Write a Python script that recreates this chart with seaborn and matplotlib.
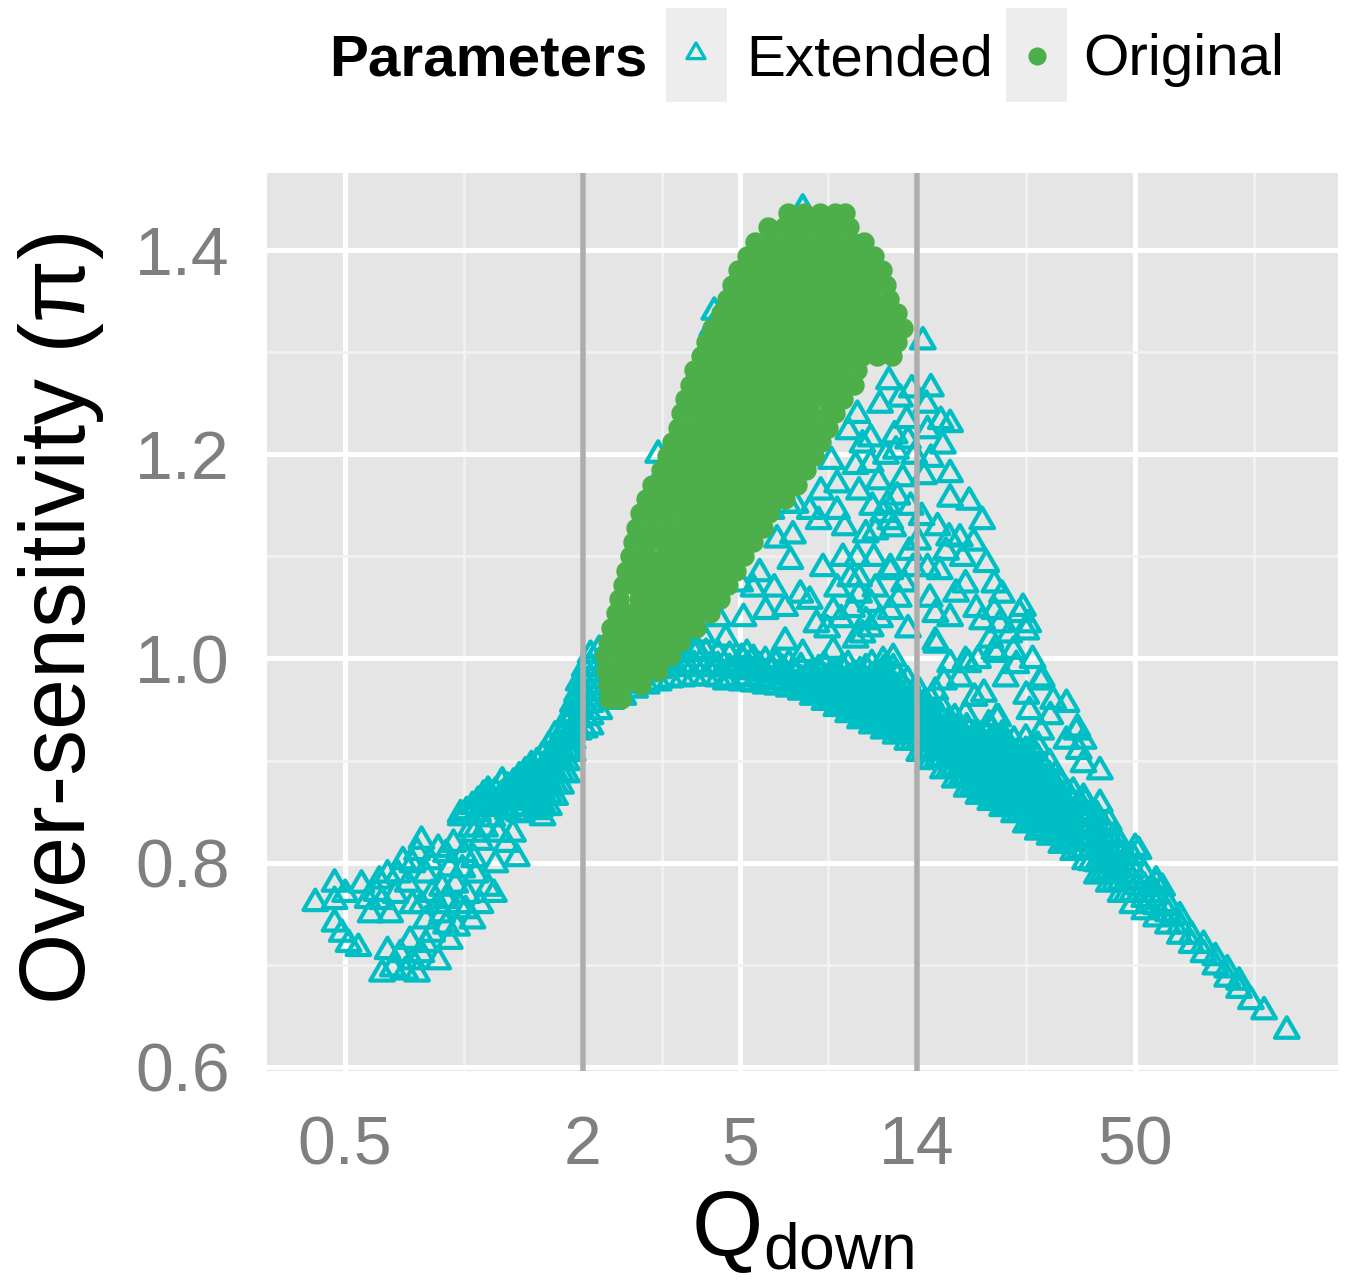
import numpy as np
import pandas as pd
import matplotlib
matplotlib.use("Agg")
import matplotlib.pyplot as plt
import seaborn as sns
from matplotlib.ticker import FixedLocator, NullFormatter
from matplotlib.patches import Rectangle
from matplotlib.path import Path

# ---------------- data ----------------
x_ticks = [0.5, 2, 5, 14, 50]
x_tick_labels = ["0.5", "2", "5", "14", "50"]
y_ticks = [0.6, 0.8, 1.0, 1.2, 1.4]
y_tick_labels = ["0.6", "0.8", "1.0", "1.2", "1.4"]
x_minor = [1.0, 3.162, 8.367, 26.46, 100.0]
y_minor = [0.7, 0.9, 1.1, 1.3]
threshold_lines = [2, 14]

# Extended: scattered triangles on the left arm (Q, pi)
ext_arm = [(0.42, 0.762), (0.47, 0.781), (0.47, 0.764), (0.50, 0.771), (0.47, 0.742), (0.49, 0.732),
           (0.51, 0.722), (0.54, 0.718), (0.58, 0.751), (0.61, 0.784), (0.62, 0.764), (0.65, 0.751),
           (0.70, 0.803), (0.72, 0.781), (0.78, 0.823), (0.82, 0.803), (0.62, 0.693), (0.66, 0.698),
           (0.69, 0.712), (0.73, 0.725), (0.76, 0.693), (0.78, 0.712), (0.83, 0.732), (0.88, 0.751),
           (0.92, 0.725), (0.96, 0.738), (0.83, 0.771), (0.88, 0.777), (0.92, 0.796), (0.98, 0.849),
           (1.00, 0.810), (1.04, 0.835), (1.07, 0.790), (1.11, 0.855), (1.15, 0.777), (1.19, 0.771),
           (1.15, 0.872), (1.25, 0.881), (1.36, 0.806), (1.40, 0.849), (1.46, 0.881), (1.56, 0.855),
           (1.62, 0.898), (1.65, 0.875), (1.72, 0.914), (1.78, 0.930), (1.85, 0.947), (1.93, 0.967),
           (0.55, 0.780), (0.57, 0.765), (0.60, 0.772), (0.64, 0.790), (0.67, 0.770), (0.68, 0.790),
           (0.74, 0.800), (0.76, 0.812), (0.80, 0.790), (0.86, 0.815), (0.90, 0.810), (0.94, 0.820),
           (0.74, 0.760), (0.78, 0.760), (0.80, 0.745), (0.86, 0.760), (0.90, 0.765), (0.95, 0.780),
           (0.99, 0.795), (1.02, 0.770), (1.06, 0.805), (1.10, 0.822), (1.13, 0.835), (0.86, 0.705),
           (0.90, 0.740), (0.97, 0.760), (1.01, 0.755), (1.05, 0.745), (1.10, 0.760), (0.64, 0.715),
           (0.71, 0.695), (0.74, 0.705), (0.80, 0.722), (1.20, 0.800), (1.28, 0.820), (1.33, 0.830),
           (1.22, 0.830), (1.18, 0.845), (1.06, 0.830)]

# Extended: dense upper band of the left arm, per Q column
ext_armband_q = [0.98, 1.015, 1.05, 1.085, 1.12, 1.16, 1.20, 1.245, 1.29, 1.335, 1.38, 1.43, 1.48,
                 1.53, 1.58, 1.64, 1.70, 1.76, 1.82, 1.885, 1.95, 2.02, 2.09]
ext_armband_pi = [[0.846], [0.852], [0.857], [0.850, 0.862], [0.856, 0.868], [0.857, 0.869],
                  [0.859, 0.871], [0.856, 0.868, 0.880], [0.852, 0.864, 0.876], [0.856, 0.868, 0.880],
                  [0.850, 0.862, 0.874, 0.886], [0.855, 0.867, 0.879, 0.891], [0.861, 0.873, 0.885, 0.897],
                  [0.852, 0.864, 0.876, 0.888, 0.900],
                  [0.846, 0.858, 0.870, 0.882, 0.894, 0.906],
                  [0.856, 0.868, 0.880, 0.892, 0.904, 0.916],
                  [0.866, 0.878, 0.890, 0.902, 0.914, 0.926],
                  [0.877, 0.889, 0.901, 0.913, 0.925],
                  [0.888, 0.900, 0.912, 0.924, 0.936],
                  [0.909, 0.921, 0.933, 0.945, 0.957],
                  [0.930, 0.942, 0.954, 0.966, 0.978],
                  [0.932, 0.944, 0.956, 0.968, 0.980, 0.992],
                  [0.935, 0.945, 0.957, 0.969, 0.981, 0.993, 1.005]]

# Extended: dense lower band (right of Q = 2), per Q column
ext_band_q = [2.20, 2.36, 2.53, 2.71, 2.90, 3.11, 3.33, 3.57, 3.82, 4.10, 4.39, 4.70, 5.04, 5.40,
              5.79, 6.20, 6.64, 7.12, 7.63, 8.17, 8.76, 9.38, 10.05, 10.77, 11.54, 12.37, 13.25,
              14.20, 15.21, 16.30, 17.47, 18.72, 20.05, 21.49, 23.02, 24.67, 26.43, 28.32, 30.35,
              32.52, 34.84, 37.33, 40.00, 42.86, 45.93, 49.21, 52.73, 56.50, 60.54, 64.87, 69.51,
              74.48, 79.80, 85.51, 91.62, 98.17]
ext_band_pi = [[0.950, 0.962, 0.974, 0.986, 0.998, 1.010], [0.960, 0.972, 0.984, 0.996],
               [0.964, 0.976, 0.988], [0.971, 0.983, 0.995], [0.975, 0.987, 0.999],
               [0.978, 0.990, 1.002], [0.981, 0.993, 1.005], [0.982, 0.994, 1.006],
               [0.983, 0.995, 1.007], [0.983, 0.995, 1.007], [0.982, 0.994, 1.006],
               [0.980, 0.992, 1.004], [0.978, 0.990, 1.002], [0.977, 0.989, 1.001],
               [0.975, 0.987, 0.999], [0.974, 0.986, 0.998], [0.972, 0.984, 0.996],
               [0.969, 0.981, 0.993], [0.964, 0.976, 0.988], [0.959, 0.971, 0.983, 0.995],
               [0.953, 0.965, 0.977, 0.989], [0.947, 0.959, 0.971, 0.983, 0.995],
               [0.941, 0.953, 0.965, 0.977, 0.989], [0.936, 0.948, 0.960, 0.972, 0.984, 0.996],
               [0.931, 0.943, 0.955, 0.967, 0.979, 0.991], [0.926, 0.938, 0.950, 0.962, 0.974, 0.986],
               [0.920, 0.932, 0.944, 0.956, 0.968, 0.980], [0.909, 0.921, 0.933, 0.945, 0.957, 0.969],
               [0.901, 0.913, 0.925, 0.937, 0.949, 0.961], [0.892, 0.904, 0.916, 0.928, 0.940, 0.952],
               [0.883, 0.895, 0.907, 0.919, 0.931, 0.943], [0.874, 0.886, 0.898, 0.910, 0.922, 0.934],
               [0.867, 0.879, 0.891, 0.903, 0.915, 0.927],
               [0.861, 0.873, 0.885, 0.897, 0.909, 0.921, 0.933],
               [0.855, 0.867, 0.879, 0.891, 0.903, 0.915, 0.927],
               [0.849, 0.861, 0.873, 0.885, 0.897, 0.909, 0.921],
               [0.839, 0.851, 0.863, 0.875, 0.887, 0.899, 0.911, 0.923],
               [0.832, 0.844, 0.856, 0.868, 0.880, 0.892, 0.904, 0.916],
               [0.827, 0.839, 0.851, 0.863, 0.875, 0.887, 0.899],
               [0.819, 0.831, 0.843, 0.855, 0.867, 0.879], [0.812, 0.824, 0.836, 0.848, 0.860, 0.871],
               [0.803, 0.815, 0.827, 0.839, 0.851, 0.861], [0.789, 0.801, 0.813, 0.825, 0.837, 0.848],
               [0.781, 0.793, 0.805, 0.817, 0.829, 0.841], [0.771, 0.783, 0.795, 0.807, 0.819],
               [0.760, 0.772, 0.784, 0.796, 0.808], [0.754, 0.766, 0.778, 0.790],
               [0.747, 0.759, 0.771, 0.781], [0.740, 0.752, 0.761], [0.730, 0.740, 0.749],
               [0.721, 0.730], [0.712, 0.721], [0.700, 0.709], [0.688, 0.697], [0.677, 0.685], [0.666]]

# Extended: in-between columns of the same dense band (staggered)
ext_band_mid_q = [5.22, 5.59, 6.00, 6.42, 6.88, 7.37, 7.90, 8.46, 9.07, 9.71, 10.4, 11.15, 11.95,
                  12.8, 13.7, 14.7, 15.75, 16.9, 18.1, 19.4, 20.75, 22.25, 23.8, 25.5, 27.35, 29.3,
                  31.4, 33.65, 36.05, 38.65, 41.4, 44.35, 47.55]
ext_band_mid_pi = [[0.983, 0.995], [0.982, 0.994], [0.980, 0.992], [0.979, 0.991], [0.976, 0.988],
                   [0.972, 0.984], [0.967, 0.979, 0.991], [0.962, 0.974, 0.986],
                   [0.956, 0.968, 0.980, 0.992], [0.950, 0.962, 0.974, 0.986],
                   [0.944, 0.956, 0.968, 0.980, 0.992], [0.939, 0.951, 0.963, 0.975, 0.987],
                   [0.934, 0.946, 0.958, 0.970, 0.982], [0.929, 0.941, 0.953, 0.965, 0.977],
                   [0.920, 0.932, 0.944, 0.956, 0.968], [0.911, 0.923, 0.935, 0.947, 0.959],
                   [0.902, 0.914, 0.926, 0.938, 0.950], [0.893, 0.905, 0.917, 0.929, 0.941],
                   [0.884, 0.896, 0.908, 0.920, 0.932], [0.876, 0.888, 0.900, 0.912, 0.924],
                   [0.870, 0.882, 0.894, 0.906, 0.918], [0.864, 0.876, 0.888, 0.900, 0.912, 0.924],
                   [0.858, 0.870, 0.882, 0.894, 0.906, 0.918], [0.850, 0.862, 0.874, 0.886, 0.898, 0.910],
                   [0.841, 0.853, 0.865, 0.877, 0.889, 0.901, 0.913], [0.835, 0.847, 0.859, 0.871, 0.883, 0.895],
                   [0.829, 0.841, 0.853, 0.865, 0.877, 0.887], [0.822, 0.834, 0.846, 0.858, 0.870],
                   [0.813, 0.825, 0.837, 0.849, 0.860], [0.802, 0.814, 0.826, 0.838, 0.850],
                   [0.791, 0.803, 0.815, 0.827, 0.839], [0.782, 0.794, 0.806, 0.818, 0.828],
                   [0.771, 0.783, 0.795, 0.807]]

# Extended: scattered triangles above the band (Q, pi)
ext_scatter = [(15.2, 1.266), (17.0, 1.231), (14.8, 1.250), (12.7, 1.256), (10.7, 1.217), (10.7, 1.192),
               (15.2, 1.197), (17.0, 1.182), (12.9, 1.178), (10.0, 1.165), (11.5, 1.143), (12.2, 1.129),
               (17.0, 1.158), (19.0, 1.155), (20.5, 1.136), (18.0, 1.119), (16.6, 1.106), (16.0, 1.087),
               (18.6, 1.074), (21.0, 1.094), (22.0, 1.074), (23.0, 1.064), (26.0, 1.051), (26.8, 1.035),
               (20.5, 1.038), (22.7, 1.035), (15.6, 1.045), (17.0, 1.041), (15.6, 1.018), (22.0, 1.009),
               (24.6, 1.009), (23.5, 0.982), (29.0, 0.982), (31.0, 0.960), (35.5, 0.930), (18.6, 0.999),
               (12.2, 1.002), (10.7, 1.055), (12.0, 1.048), (14.1, 1.116), (13.4, 1.106), (10.9, 1.100),
               (12.0, 1.087), (10.0, 1.080), (11.9, 1.273), (9.4, 1.224), (10.2, 1.211), (16.1, 1.234),
               (8.8, 1.172), (7.5, 1.146), (8.0, 1.165), (6.6, 1.152), (6.0, 1.146), (6.9, 1.152),
               (11.8, 1.152), (11.0, 1.126), (7.9, 1.136), (8.8, 1.146), (6.7, 1.097), (8.1, 1.090),
               (9.1, 1.100), (10.4, 1.123), (12.0, 1.136), (12.0, 1.090), (5.4, 1.070), (6.1, 1.070),
               (7.1, 1.064), (8.8, 1.070), (10.0, 1.064), (5.1, 1.041), (5.8, 1.048), (6.5, 1.051),
               (7.5, 1.058), (8.6, 1.048), (10.7, 1.031), (4.4, 1.041), (4.6, 1.021), (4.0, 1.025),
               (3.9, 1.009), (4.3, 0.992), (4.6, 0.979), (5.2, 1.006), (5.5, 0.989), (6.1, 0.999),
               (6.5, 1.018), (7.2, 1.006), (8.0, 0.986), (8.6, 1.009), (10.2, 1.025), (11.5, 0.999),
               (12.2, 0.992), (3.6, 0.992), (3.4, 1.009), (22.0, 1.048), (25.5, 1.045), (26.5, 1.028),
               (15.7, 1.015), (22.3, 1.006), (28.9, 0.979), (33.5, 0.957), (35.7, 0.933), (33.5, 0.921),
               (37.0, 0.921), (37.0, 0.898), (40.7, 0.891), (40.7, 0.859), (37.0, 0.865), (50.0, 0.816),
               (56.5, 0.784), (10.4, 1.038), (18.9, 0.996), (16.4, 0.979), (20.7, 0.967), (22.3, 0.943),
               (19.8, 0.927), (26.5, 0.908), (28.9, 0.930), (36.0, 0.911), (51.0, 0.813), (58.5, 0.777),
               (106.0, 0.656), (121.0, 0.637), (15.6, 0.969), (17.0, 0.996), (18.0, 0.982), (19.6, 0.963),
               (21.3, 0.937), (22.5, 0.943), (23.0, 0.921), (18.6, 0.947), (17.0, 0.930), (15.2, 0.943),
               (6.2, 1.118), (6.8, 1.122), (5.6, 1.085), (5.0, 1.075), (3.5, 1.022), (3.8, 1.035),
               (4.3, 1.341), (4.25, 1.325), (3.1, 1.201), (3.2, 1.185), (7.2, 1.442), (14.5, 1.312),
               (7.8, 1.035), (8.3, 1.030), (9.0, 1.040), (9.6, 1.050), (9.8, 1.020), (11.0, 1.070),
               (11.3, 1.040), (12.6, 1.060), (13.3, 1.030), (13.0, 1.075), (13.7, 1.090), (9.5, 1.080),
               (9.9, 1.100), (9.2, 1.130), (10.8, 1.150), (11.2, 1.175), (12.5, 1.160), (13.5, 1.150),
               (13.8, 1.200), (11.7, 1.200), (12.3, 1.220), (13.2, 1.235), (9.8, 1.190), (8.5, 1.195),
               (11.3, 1.250), (12.4, 1.205), (13.6, 1.265), (9.9, 1.240), (13.3, 1.215),
               (14.6, 1.180), (15.8, 1.130), (14.9, 1.090), (16.9, 1.120), (15.1, 1.060), (18.3, 1.100),
               (19.5, 1.115), (14.4, 1.140), (17.6, 1.065), (19.8, 1.050), (16.3, 1.210), (14.9, 1.225),
               (24.0, 1.025), (25.0, 0.995), (27.5, 1.000), (21.5, 1.020), (20.0, 1.000), (26.5, 0.965),
               (30.5, 0.945), (27.0, 0.950)]

# Original: filled dots, one row per pi level
orig_pi_levels = [0.960, 0.974, 0.988, 1.002, 1.016, 1.030, 1.044, 1.058, 1.072, 1.086, 1.100, 1.114,
                  1.128, 1.142, 1.156, 1.170, 1.184, 1.198, 1.212, 1.226, 1.240, 1.254, 1.268, 1.282,
                  1.296, 1.310, 1.324, 1.338, 1.352, 1.366, 1.380, 1.394, 1.408, 1.422, 1.436]
orig_q_rows = [
    [2.33, 2.50],
    [2.31, 2.53, 2.80],
    [2.29, 2.42, 2.65, 2.91, 3.10],
    [2.28, 2.53, 2.78, 3.05, 3.33],
    [2.31, 2.45, 2.65, 2.91, 3.20, 3.52],
    [2.36, 2.53, 2.78, 3.05, 3.35, 3.68, 3.86],
    [2.42, 2.65, 2.91, 3.20, 3.51, 3.85, 4.19],
    [2.47, 2.78, 3.05, 3.35, 3.68, 4.04, 4.44],
    [2.52, 2.70, 2.91, 3.20, 3.51, 3.85, 4.23, 4.65],
    [2.57, 2.78, 3.05, 3.35, 3.68, 4.04, 4.44, 4.87],
    [2.63, 2.91, 3.20, 3.51, 3.85, 4.23, 4.65, 5.10],
    [2.68, 2.92, 3.18, 3.47, 3.79, 4.14, 4.52, 4.95, 5.40],
    [2.73, 3.00, 3.29, 3.61, 3.96, 4.35, 4.77, 5.22, 5.70],
    [2.79, 3.05, 3.35, 3.68, 4.04, 4.44, 4.87, 5.35, 5.90],
    [2.89, 3.20, 3.51, 3.85, 4.23, 4.65, 5.10, 5.60, 6.20, 6.50],
    [2.99, 3.30, 3.62, 3.98, 4.37, 4.80, 5.27, 5.78, 6.34, 6.67, 6.95],
    [3.15, 3.46, 3.80, 4.17, 4.58, 5.03, 5.52, 6.06, 6.65, 7.05, 7.35],
    [3.26, 3.58, 3.93, 4.31, 4.73, 5.19, 5.70, 6.26, 6.87, 7.38, 7.70],
    [3.36, 3.69, 4.05, 4.45, 4.88, 5.36, 5.88, 6.46, 7.09, 7.71, 8.00],
    [3.47, 3.81, 4.18, 4.59, 5.04, 5.53, 6.07, 6.67, 7.32, 8.00, 8.35],
    [3.55, 3.90, 4.28, 4.70, 5.16, 5.67, 6.22, 6.83, 7.50, 8.35, 8.70],
    [3.62, 3.98, 4.37, 4.80, 5.27, 5.78, 6.35, 6.97, 7.65, 8.25, 8.76, 9.10],
    [3.73, 4.10, 4.50, 4.94, 5.42, 5.95, 6.53, 7.17, 7.87, 8.64, 9.33, 9.70],
    [3.83, 4.20, 4.61, 5.06, 5.56, 6.10, 6.70, 7.36, 8.08, 8.87, 9.90],
    [3.99, 4.38, 4.81, 5.28, 5.80, 6.37, 6.99, 7.68, 8.43, 9.26, 10.2, 11.1, 12.1],
    [4.10, 4.50, 4.94, 5.42, 5.95, 6.53, 7.17, 7.87, 8.64, 9.49, 10.4, 11.4, 12.5],
    [4.25, 4.67, 5.13, 5.63, 6.18, 6.79, 7.45, 8.18, 8.98, 9.86, 10.8, 11.9, 12.9],
    [4.46, 4.90, 5.38, 5.91, 6.49, 7.12, 7.82, 8.59, 9.43, 10.35, 11.4, 12.5],
    [4.62, 5.07, 5.57, 6.11, 6.71, 7.37, 8.09, 8.88, 9.75, 10.7, 11.9],
    [4.78, 5.25, 5.76, 6.33, 6.95, 7.63, 8.38, 9.20, 10.1, 11.0, 11.7],
    [4.94, 5.42, 5.95, 6.53, 7.17, 7.87, 8.64, 9.49, 10.4, 11.4],
    [5.20, 5.71, 6.27, 6.88, 7.55, 8.29, 9.10, 9.99, 10.9],
    [5.46, 6.00, 6.59, 7.23, 7.94, 8.72, 9.57, 10.3],
    [5.88, 6.45, 7.08, 7.77, 8.53, 9.45],
    [6.60, 7.25, 7.95, 8.70, 9.20],
]

# ---------------- assemble ----------------
ext_q, ext_pi = [], []
for q, p in ext_arm:
    ext_q.append(q); ext_pi.append(p)
for qs, cols in [(ext_armband_q, ext_armband_pi), (ext_band_q, ext_band_pi),
                 (ext_band_mid_q, ext_band_mid_pi)]:
    for q, col in zip(qs, cols):
        for p in col:
            ext_q.append(q); ext_pi.append(p)
for q, p in ext_scatter:
    ext_q.append(q); ext_pi.append(p)

orig_q, orig_pi = [], []
for p, row in zip(orig_pi_levels, orig_q_rows):
    for q in row:
        orig_q.append(q); orig_pi.append(p)

df = pd.DataFrame({
    "Q": ext_q + orig_q,
    "pi": ext_pi + orig_pi,
    "Parameters": ["Extended"] * len(ext_q) + ["Original"] * len(orig_q),
})

# ---------------- style ----------------
sns.set_theme(style="darkgrid")
plt.rcParams["font.family"] = ["Liberation Sans", "DejaVu Sans"]
plt.rcParams["mathtext.fontset"] = "custom"
plt.rcParams["mathtext.rm"] = "Liberation Sans"
plt.rcParams["mathtext.it"] = "Liberation Sans:italic"

CYAN = "#00BFC4"
GREEN = "#4DAF4A"
GREY50 = "#7F7F7F"

tri = Path([(-1, -0.73), (1, -0.73), (0, 1), (-1, -0.73)], closed=True)
TRI_S = 290
DOT_S = 215

fig = plt.figure(figsize=(13.5, 12.82), dpi=100)
fig.patch.set_facecolor("white")
ax = fig.add_axes([267 / 1350, 1 - 1071 / 1282, 1071 / 1350, 898 / 1282])
ax.set_facecolor("#E5E5E5")

ext_df = df[df["Parameters"] == "Extended"]
org_df = df[df["Parameters"] == "Original"]

sns.scatterplot(data=ext_df, x="Q", y="pi", marker=tri, s=TRI_S, color=CYAN,
                ax=ax, legend=False, zorder=2)
coll = ax.collections[-1]
coll.set_facecolor("none")
coll.set_edgecolor(CYAN)
coll.set_linewidth(3.0)

sns.scatterplot(data=org_df, x="Q", y="pi", marker="o", s=DOT_S, color=GREEN,
                linewidth=0, ax=ax, legend=False, zorder=2.5)

for xv in threshold_lines:
    ax.axvline(xv, color="#ADADAD", lw=4, zorder=3)

ax.set_xscale("log")
ax.set_xlim(0.317, 163.1)
ax.set_ylim(0.596, 1.4753)

ax.xaxis.set_major_locator(FixedLocator(x_ticks))
ax.set_xticklabels(x_tick_labels)
ax.xaxis.set_minor_locator(FixedLocator(x_minor))
ax.xaxis.set_minor_formatter(NullFormatter())
ax.yaxis.set_major_locator(FixedLocator(y_ticks))
ax.set_yticklabels(y_tick_labels)
ax.yaxis.set_minor_locator(FixedLocator(y_minor))

ax.set_axisbelow(True)
ax.grid(True, which="major", color="white", lw=3.6)
ax.grid(True, which="minor", color="#F2F2F2", lw=1.9)

for sp in ax.spines.values():
    sp.set_visible(False)

ax.tick_params(axis="both", which="major", length=17, width=2.2, color=GREY50,
               labelcolor=GREY50, labelsize=49)
ax.tick_params(axis="x", which="major", pad=14)
ax.tick_params(axis="y", which="major", pad=10)
ax.tick_params(axis="both", which="minor", length=0)

ax.set_ylabel("Over-sensitivity (π)", fontsize=66, color="black")
ax.yaxis.set_label_coords(-0.192, 0.507)
ax.yaxis.label.set_verticalalignment("center")
ax.set_xlabel(r"$\mathregular{Q_{down}}$", fontsize=66, color="black")
ax.xaxis.set_label_coords(0.5, -0.1316)
ax.xaxis.label.set_verticalalignment("top")

# ---------------- legend (top) ----------------
lax = fig.add_axes([0, 0, 1, 1], zorder=5)
lax.set_xlim(0, 1350)
lax.set_ylim(1282, 0)
lax.axis("off")
lax.text(329, 75, "Parameters", fontsize=42, fontweight="bold", ha="left", va="baseline", color="black")
lax.add_patch(Rectangle((666, 8), 61, 94, facecolor="#EDEDED", edgecolor="none"))
lax.add_patch(Rectangle((1006, 8), 61, 94, facecolor="#EDEDED", edgecolor="none"))
lax.scatter([696], [52], marker=tri, s=170, facecolors="none", edgecolors=CYAN, linewidths=2.4)
lax.scatter([1037], [56], marker="o", s=170, color=GREEN, linewidths=0)
lax.text(746, 75, "Extended", fontsize=42, ha="left", va="baseline", color="black")
lax.text(1083, 75, "Original", fontsize=42, ha="left", va="baseline", color="black")

fig.savefig("out.png", dpi=100)
